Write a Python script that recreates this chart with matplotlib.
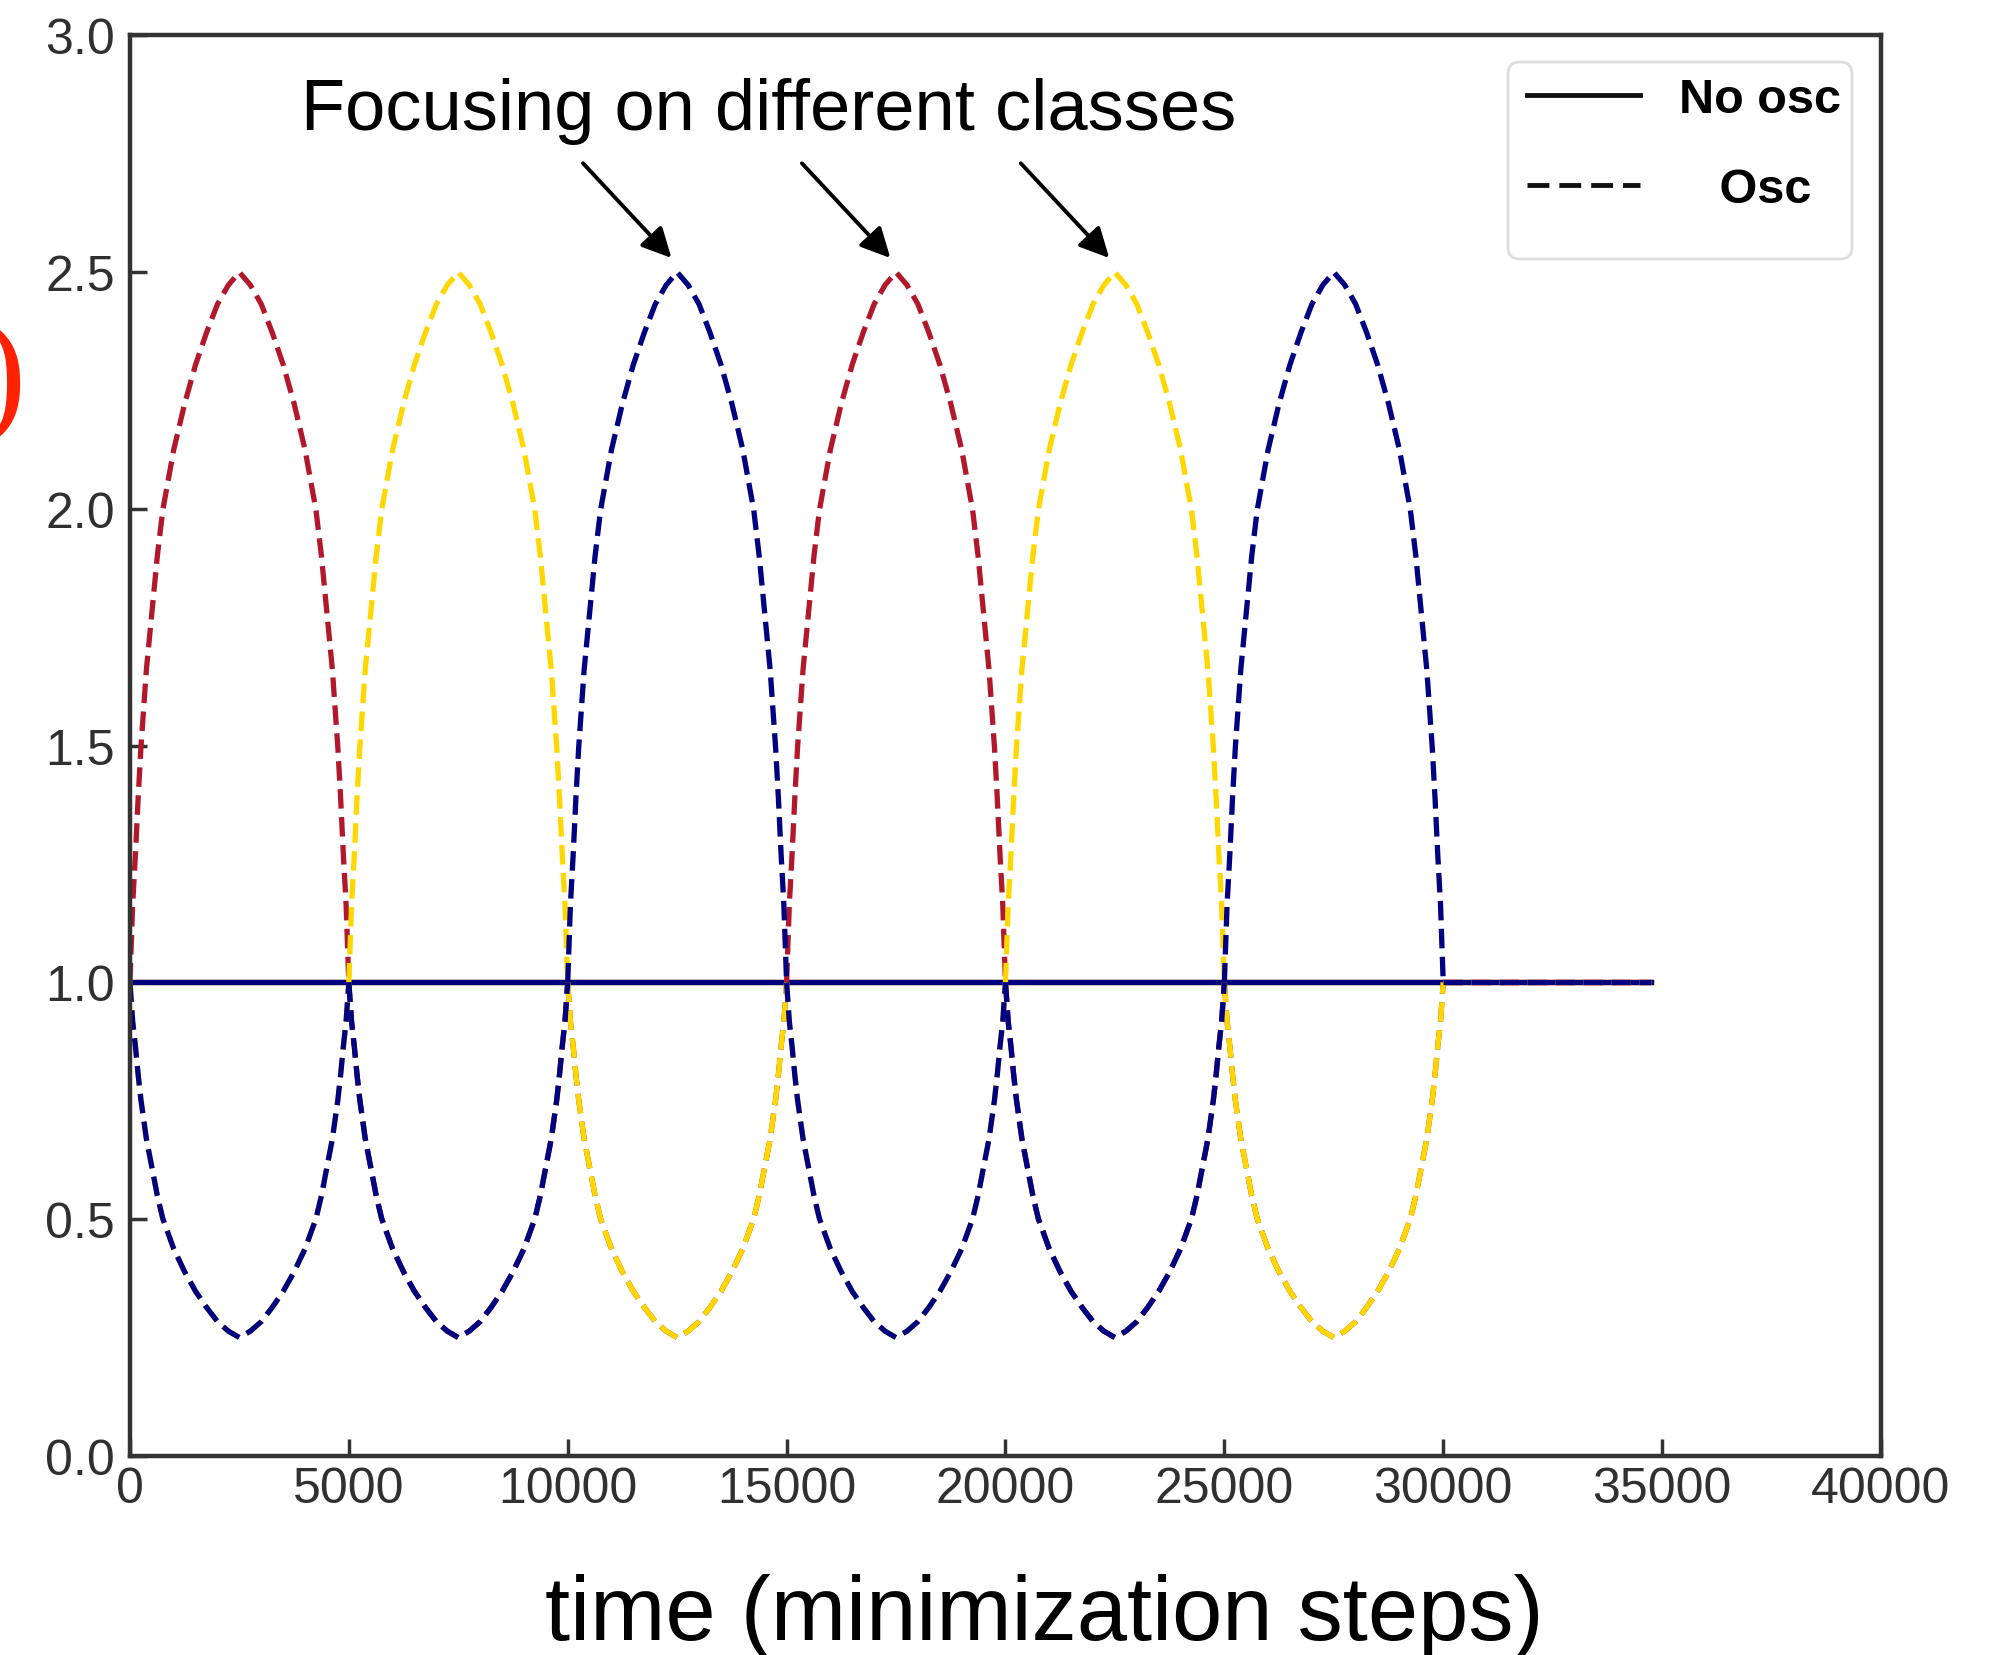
import numpy as np
import matplotlib
matplotlib.use('Agg')
import matplotlib.pyplot as plt
from matplotlib.lines import Line2D
from matplotlib.patches import FancyBboxPatch

# --- data ---
seg_len = 5000                  # one focus period (minimization steps)
# half of one arc: position inside the period (fraction) -> height (0 at the ends, 1 at the middle)
arc_u = [0.0, 0.0125, 0.025, 0.0375, 0.05, 0.075, 0.1, 0.125, 0.15, 0.2,
         0.25, 0.3, 0.35, 0.4, 0.45, 0.5]
arc_g = [0.0, 0.11, 0.18, 0.26, 0.33, 0.44, 0.52, 0.60, 0.665, 0.75,
         0.815, 0.87, 0.915, 0.955, 0.982, 1.0]
peak_value = 2.5
trough_value = 0.25
base_value = 1.0
# class that is focused on in each 5000-step period
focus_order = ['red', 'yellow', 'blue', 'red', 'yellow', 'blue']
flat_end = 34750                # last time step drawn
tail_step = 250

classes = ['red', 'yellow', 'blue']
class_colors = {'red': '#b2182b', 'yellow': '#ffd700', 'blue': '#000080'}

# arrows point at these peaks
arrow_peaks = [12500, 17500, 22500]

# --- build the segments ---
u_full = np.concatenate([arc_u, 1 - np.array(arc_u[-2::-1])])
g_full = np.concatenate([arc_g, arc_g[-2::-1]])


def class_segments(cls):
    segs = []
    for k, focus in enumerate(focus_order):
        t = k * seg_len + u_full * seg_len
        if focus == cls:
            w = base_value + (peak_value - base_value) * g_full
        else:
            w = base_value - (base_value - trough_value) * g_full
        segs.append((t, w))
    t_tail = np.arange(len(focus_order) * seg_len, flat_end + 1, tail_step)
    segs.append((t_tail, np.full(len(t_tail), base_value)))
    return segs


plt.rcParams['font.family'] = ['Liberation Sans', 'DejaVu Sans']

fig = plt.figure(figsize=(19.93, 16.56), dpi=100)
ax = fig.add_axes([0.0652, 0.1202, 0.8786, 0.8578])

t_flat = np.arange(0, flat_end + 1, tail_step)
for cls in classes:
    ax.plot(t_flat, np.full(len(t_flat), base_value), color=class_colors[cls], lw=3.8)
for cls in classes:
    for t, w in class_segments(cls):
        ax.plot(t, w, color=class_colors[cls], lw=3.8, ls='--')

ax.set_xlim(0, 40000)
ax.set_ylim(0, 3.0)
ax.set_xticks(np.arange(0, 40001, 5000))
ax.set_yticks(np.arange(0, 3.01, 0.5))
ax.set_yticklabels([f'{v:.1f}' for v in np.arange(0, 3.01, 0.5)])

for s in ax.spines.values():
    s.set_linewidth(3.2)
    s.set_color('#333333')
ax.tick_params(axis='both', direction='in', length=12, width=2.5, color='#333333',
               labelsize=36, labelcolor='#303030', top=False, right=False)
ax.tick_params(axis='x', pad=7)
ax.tick_params(axis='y', pad=11)

# annotation
ax.text(14600, 2.803, 'Focusing on different classes', fontsize=52,
        ha='center', va='baseline', color='black')
for p in arrow_peaks:
    ax.annotate('', xy=(p - 130, 2.53), xytext=(p - 2150, 2.73),
                arrowprops=dict(arrowstyle='-|>', color='black', lw=2.8,
                                mutation_scale=45, shrinkA=0, shrinkB=0))

# legend (frame drawn separately so the padding matches)
frame = FancyBboxPatch((15.08, 13.96), 3.44, 1.97,
                       boxstyle='round,pad=0,rounding_size=0.12',
                       transform=fig.dpi_scale_trans, facecolor='white',
                       edgecolor='#dddddd', lw=2, zorder=5)
fig.patches.append(frame)
handles = [Line2D([], [], color='#111111', lw=3.5),
           Line2D([], [], color='#111111', lw=3.5, dashes=(4.5, 2.05))]
leg = fig.legend(handles, ['No osc', '   Osc'], loc='upper left',
                 bbox_to_anchor=(1527 / 1993, 1 - 78 / 1656), borderaxespad=0,
                 prop={'size': 35, 'weight': 'bold'}, handlelength=2.33,
                 handletextpad=0.8, labelspacing=0.92, borderpad=0,
                 frameon=False)
leg.set_zorder(6)

# x label
fig.text(1044 / 1993, 16 / 1656, 'time (minimization steps)', fontsize=65,
         ha='center', va='baseline')

# cut-off panel mark at the left edge
fig.text(26 / 1993, 1 - 384 / 1656, ')', fontsize=100, family='Liberation Serif',
         color='#ff2200', ha='right', va='center')

fig.savefig('out.png', dpi=100)
